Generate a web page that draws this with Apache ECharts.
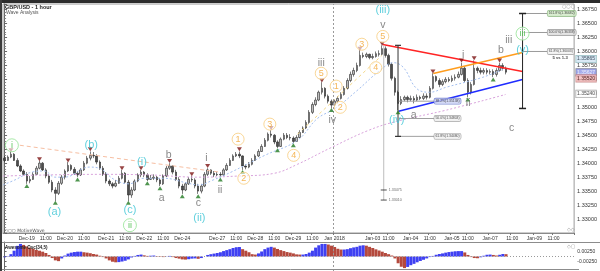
<!DOCTYPE html>
<html><head><meta charset="utf-8">
<script src="https://cdn.jsdelivr.net/npm/echarts/dist/echarts.min.js"></script>
<style>html,body{margin:0;padding:0;background:#fff}#c{width:600px;height:271px}</style>
</head><body><div id="c"></div>
<script>
// ---------- DATA ----------
// 2-hour candles: [open, close, low, high]
const candles = [
[1.3409,1.3405,1.3402,1.3413],[1.3405,1.3411,1.3404,1.3414],[1.3411,1.3416,1.3409,1.3420],[1.3416,1.3405,1.3404,1.3418],
[1.3405,1.3395,1.3393,1.3409],[1.3395,1.3386,1.3384,1.3398],[1.3386,1.3380,1.3377,1.3389],[1.3380,1.3368,1.3363,1.3384],
[1.3368,1.3371,1.3364,1.3377],[1.3371,1.3380,1.3370,1.3384],[1.3380,1.3391,1.3379,1.3395],[1.3391,1.3400,1.3389,1.3404],
[1.3400,1.3388,1.3386,1.3402],[1.3388,1.3377,1.3373,1.3391],[1.3377,1.3366,1.3363,1.3380],[1.3366,1.3352,1.3348,1.3370],
[1.3352,1.3346,1.3332,1.3357],[1.3346,1.3364,1.3343,1.3368],[1.3364,1.3375,1.3361,1.3379],[1.3375,1.3386,1.3371,1.3389],
[1.3386,1.3396,1.3384,1.3402],[1.3396,1.3389,1.3386,1.3398],[1.3389,1.3382,1.3379,1.3393],[1.3382,1.3379,1.3375,1.3386],
[1.3379,1.3388,1.3377,1.3391],[1.3388,1.3400,1.3386,1.3404],[1.3400,1.3409,1.3398,1.3413],[1.3409,1.3414,1.3405,1.3421],
[1.3414,1.3413,1.3409,1.3420],[1.3413,1.3402,1.3398,1.3416],[1.3402,1.3391,1.3388,1.3405],[1.3391,1.3380,1.3377,1.3395],
[1.3380,1.3368,1.3364,1.3384],[1.3368,1.3363,1.3359,1.3371],[1.3363,1.3359,1.3355,1.3366],[1.3359,1.3364,1.3357,1.3370],
[1.3364,1.3373,1.3363,1.3377],[1.3373,1.3382,1.3371,1.3388],[1.3382,1.3366,1.3363,1.3384],[1.3366,1.3343,1.3332,1.3370],
[1.3343,1.3352,1.3338,1.3357],[1.3352,1.3368,1.3350,1.3371],[1.3368,1.3379,1.3366,1.3382],[1.3379,1.3384,1.3375,1.3388],
[1.3384,1.3379,1.3375,1.3386],[1.3379,1.3371,1.3368,1.3382],[1.3371,1.3373,1.3370,1.3379],[1.3373,1.3375,1.3370,1.3380],
[1.3375,1.3370,1.3366,1.3377],[1.3370,1.3363,1.3359,1.3373],[1.3363,1.3377,1.3361,1.3380],[1.3377,1.3391,1.3375,1.3395],
[1.3391,1.3395,1.3388,1.3400],[1.3395,1.3384,1.3380,1.3396],[1.3384,1.3371,1.3368,1.3388],[1.3371,1.3359,1.3355,1.3375],
[1.3359,1.3352,1.3345,1.3363],[1.3352,1.3363,1.3350,1.3366],[1.3363,1.3371,1.3361,1.3375],[1.3371,1.3370,1.3366,1.3377],
[1.3370,1.3359,1.3355,1.3373],[1.3359,1.3350,1.3345,1.3363],[1.3350,1.3359,1.3346,1.3363],[1.3359,1.3380,1.3357,1.3384],
[1.3380,1.3388,1.3377,1.3391],[1.3388,1.3382,1.3379,1.3389],[1.3382,1.3379,1.3375,1.3386],[1.3379,1.3380,1.3377,1.3384],
[1.3380,1.3379,1.3375,1.3384],[1.3379,1.3388,1.3377,1.3391],[1.3388,1.3396,1.3386,1.3400],[1.3396,1.3405,1.3395,1.3409],
[1.3405,1.3413,1.3404,1.3416],[1.3413,1.3416,1.3411,1.3420],[1.3416,1.3413,1.3409,1.3421],[1.3413,1.3395,1.3388,1.3414],
[1.3395,1.3393,1.3389,1.3398],[1.3393,1.3398,1.3391,1.3402],[1.3398,1.3405,1.3396,1.3409],[1.3405,1.3413,1.3404,1.3416],
[1.3413,1.3421,1.3411,1.3425],[1.3421,1.3430,1.3420,1.3434],[1.3430,1.3441,1.3429,1.3445],[1.3441,1.3452,1.3439,1.3455],
[1.3452,1.3450,1.3446,1.3459],[1.3450,1.3438,1.3434,1.3452],[1.3438,1.3430,1.3427,1.3441],[1.3430,1.3443,1.3429,1.3446],
[1.3443,1.3450,1.3441,1.3454],[1.3450,1.3446,1.3443,1.3454],[1.3446,1.3445,1.3441,1.3452],[1.3445,1.3439,1.3436,1.3448],
[1.3439,1.3446,1.3438,1.3450],[1.3446,1.3455,1.3445,1.3459],[1.3455,1.3463,1.3454,1.3466],[1.3463,1.3473,1.3461,1.3477],
[1.3473,1.3491,1.3470,1.3495],[1.3491,1.3505,1.3488,1.3509],[1.3505,1.3513,1.3502,1.3518],[1.3513,1.3527,1.3511,1.3530],
[1.3527,1.3534,1.3523,1.3545],[1.3534,1.3520,1.3516,1.3536],[1.3520,1.3511,1.3507,1.3523],[1.3511,1.3504,1.3498,1.3514],
[1.3504,1.3511,1.3502,1.3514],[1.3511,1.3516,1.3507,1.3520],[1.3516,1.3523,1.3514,1.3527],[1.3523,1.3534,1.3521,1.3538],
[1.3534,1.3548,1.3532,1.3552],[1.3548,1.3559,1.3545,1.3564],[1.3559,1.3566,1.3555,1.3571],[1.3566,1.3575,1.3563,1.3580],
[1.3575,1.3593,1.3573,1.3602],[1.3593,1.3591,1.3588,1.3598],[1.3591,1.3595,1.3588,1.3598],[1.3595,1.3589,1.3586,1.3596],
[1.3589,1.3591,1.3586,1.3596],[1.3591,1.3596,1.3589,1.3600],[1.3596,1.3595,1.3591,1.3602],[1.3595,1.3605,1.3593,1.3611],
[1.3605,1.3593,1.3589,1.3609],[1.3593,1.3577,1.3573,1.3596],[1.3577,1.3552,1.3548,1.3580],[1.3552,1.3527,1.3521,1.3555],
[1.3527,1.3507,1.3495,1.3530],[1.3507,1.3514,1.3504,1.3520],[1.3514,1.3518,1.3511,1.3521],[1.3518,1.3514,1.3509,1.3521],
[1.3514,1.3516,1.3511,1.3521],[1.3516,1.3513,1.3507,1.3520],[1.3513,1.3518,1.3511,1.3523],[1.3518,1.3516,1.3513,1.3521],
[1.3516,1.3520,1.3513,1.3525],[1.3520,1.3518,1.3514,1.3525],[1.3518,1.3534,1.3516,1.3538],[1.3534,1.3555,1.3532,1.3561],
[1.3555,1.3548,1.3545,1.3557],[1.3548,1.3541,1.3536,1.3552],[1.3541,1.3546,1.3538,1.3550],[1.3546,1.3550,1.3543,1.3554],
[1.3550,1.3548,1.3545,1.3554],[1.3548,1.3552,1.3545,1.3557],[1.3552,1.3554,1.3548,1.3559],[1.3554,1.3559,1.3552,1.3564],
[1.3559,1.3570,1.3557,1.3580],[1.3570,1.3548,1.3545,1.3573],[1.3548,1.3527,1.3518,1.3552],[1.3527,1.3541,1.3523,1.3545],
[1.3541,1.3570,1.3539,1.3584],[1.3570,1.3566,1.3561,1.3573],[1.3566,1.3563,1.3559,1.3571],[1.3563,1.3566,1.3559,1.3570],
[1.3566,1.3563,1.3559,1.3570],[1.3563,1.3564,1.3559,1.3568],[1.3564,1.3559,1.3554,1.3568],[1.3559,1.3566,1.3555,1.3570],
[1.3566,1.3575,1.3564,1.3580],[1.3575,1.3570,1.3566,1.3579],[1.3570,1.3563,1.3559,1.3573]
];
// Awesome Oscillator (34,5), one value per candle
const aoValues = [
-0.0004,0.0002,0.0012,0.0030,0.0055,0.0065,0.0060,0.0052,0.0045,0.0040,
0.0034,0.0030,0.0025,0.0018,0.0008,-0.0008,-0.0020,-0.0024,-0.0010,0.0005,
0.0015,0.0020,0.0023,0.0025,0.0025,0.0022,0.0020,0.0017,0.0013,0.0010,
0.0004,-0.0003,-0.0010,-0.0020,-0.0027,-0.0030,-0.0029,-0.0026,-0.0022,-0.0015,
-0.0005,0.0003,0.0008,0.0010,0.0006,0.0003,0.0004,0.0005,0.0002,-0.0002,
-0.0003,0.0001,0.0003,-0.0003,-0.0008,-0.0011,-0.0015,-0.0016,-0.0014,-0.0011,
-0.0010,-0.0012,-0.0008,0.0000,0.0008,0.0012,0.0015,0.0018,0.0022,0.0028,
0.0033,0.0038,0.0044,0.0048,0.0049,0.0038,0.0030,0.0022,0.0012,0.0010,
0.0016,0.0026,0.0038,0.0046,0.0050,0.0046,0.0039,0.0033,0.0028,0.0023,
0.0020,0.0016,0.0011,0.0010,0.0010,0.0013,0.0020,0.0030,0.0046,0.0058,
0.0065,0.0065,0.0062,0.0056,0.0049,0.0040,0.0036,0.0036,0.0038,0.0043,
0.0047,0.0050,0.0056,0.0058,0.0056,0.0050,0.0044,0.0037,0.0031,0.0025,
0.0018,0.0012,0.0005,-0.0010,-0.0035,-0.0053,-0.0060,-0.0054,-0.0045,-0.0038,
-0.0030,-0.0023,-0.0017,-0.0010,-0.0003,0.0003,0.0009,0.0013,0.0016,0.0020,
0.0023,0.0025,0.0027,0.0028,0.0028,0.0021,0.0008,-0.0003,-0.0008,-0.0009,
-0.0004,0.0004,0.0009,0.0010,0.0008,0.0005,0.0009,0.0013,0.0012
];
const slotCount = 180;
const tickIndex = [7,13,19,25,32,38,44,50,56,67,73,79,85,91,97,104,116,121,128,134,141,146,153,160,167,173];
const tickText = ['Dec-19','11:00','Dec-20','11:00','Dec-21','11:00','Dec-22','11:00','Dec-24','Dec-27','11:00','Dec-28','11:00','Dec-29','11:00','Jan 2018','Jan-03','11:00','Jan-04','11:00','Jan-05','11:00','Jan-07','11:00','Jan-09','11:00'];
// moving averages [slot, price]
const fastMA = [[-0.5,1.3361],[3.25,1.3370],[8.6,1.3384],[12.6,1.3386],[15.75,1.3375],[18.9,1.3375],[26.7,1.3393],[29.8,1.3391],[34.5,1.3371],[39.2,1.3363],[43.9,1.3373],[50.1,1.3373],[57.9,1.3364],[61.1,1.3361],[65.75,1.3370],[71.4,1.3384],[82,1.3414],[92.3,1.3441],[98.6,1.3480],[104.2,1.3498],[111.1,1.3530],[118.3,1.3566],[122.6,1.3580],[125.75,1.3571],[129.8,1.3534],[133.9,1.3527],[139.2,1.3536],[150.8,1.3554],[157.9,1.3570]];
const slowMA = [[-0.5,1.3377],[14.2,1.3379],[29.8,1.3380],[45.4,1.3379],[61.1,1.3375],[73.6,1.3377],[85.1,1.3382],[92.3,1.3398],[102.6,1.3427],[114.8,1.3459],[123.6,1.3475],[139.2,1.3495],[157.9,1.3523]];
// trend lines
const redLine = [[119.2,1.36125],[163.25,1.35643]];
const orangeLine = [[135.1,1.35607],[163.25,1.35982]];
const blueLine = [[124.2,1.34929],[163.25,1.35500]];
const peachLine = [[4.8,1.34321],[67.9,1.33839]];
const yellowLine = [[92.3,1.34518],[118.9,1.35929]];
// fractal markers [slot, price]
const peakMarks = [[2,1.3423],[11,1.3407],[20,1.3405],[27,1.3425],[37,1.3391],[43,1.3391],[52,1.3404],[59,1.3380],[64,1.3395],[74,1.3425],[84,1.3463],[100,1.3548],[112,1.3605],[119,1.3614],[135,1.3564],[144,1.3584],[148,1.3588],[156,1.3584]];
const troughMarks = [[7,1.3359],[16,1.3329],[23,1.3371],[39,1.3329],[45,1.3364],[49,1.3355],[56,1.3341],[61,1.3341],[68,1.3371],[75,1.3384],[86,1.3423],[91,1.3432],[103,1.3495],[124,1.3491],[146,1.3514],[154,1.3550]];
// wave labels [text, slot, price]
const minorCircles = [['1',73.6,1.3443],['2',75.4,1.3373],['3',83.6,1.3470],['4',91.1,1.3414],['5',99.8,1.3561],['1',104.5,1.3538],['2',105.8,1.3500],['3',112.6,1.3613],['4',117.0,1.3571],['5',119.2,1.3627]];
const greenCircles = [['i',2.3,1.3432],['ii',39.5,1.3289],['iii',163.25,1.3632]];
const cyanLabels = [['(iii)',119.2,1.3675],['(a)',15.75,1.3312],['(b)',27.3,1.3432],['(c)',39.5,1.3316],['(i)',43.3,1.3402],['(ii)',61.4,1.3302],['(iv)',123.6,1.3477],['(v)',163.25,1.3602]];
const grayLabels = [['b',51.7,1.3414],['a',49.5,1.3337],['c',61.1,1.3328],['i',63.6,1.3409],['ii',67.9,1.3352],['iii',99.8,1.3580],['iv',103.25,1.3477],['v',119.2,1.3648],['a',128.9,1.3486],['i',144.5,1.3593],['ii',146.1,1.3507],['b',156.4,1.3602],['iii',158.9,1.3620],['c',159.8,1.3463]];
// fibonacci tools
const fibRightLevels = [1.3668,1.3634,1.3600];
const fibRightText = ['161.8%(1.36682)','100.0%(1.36338)','61.8%(1.36003)'];
const fibLeftLevels = [1.3511,1.3480,1.3448];
const fibLeftText = ['38.2%(1.35138)','50.0%(1.34803)','61.8%(1.34480)'];
const priceTags = [1.35865,1.35627,1.35520,1.35240];

// ---------- CHART ----------
const F = '"Liberation Sans", Arial, sans-serif';
const chart = echarts.init(document.getElementById('c'), null, {renderer:'canvas', width:600, height:271});
const cats = Array.from({length: slotCount}, (_, i) => String(i));
const labelMap = {}; tickIndex.forEach((k, j) => labelMap[k] = tickText[j]);
const tickSet = new Set(tickIndex);

function seg(data, color, width, type, extra) {
  return Object.assign({type:'line', xAxisIndex:1, yAxisIndex:0, data, symbol:'none', silent:true,
    animation:false, z:4, lineStyle:{color, width, type}}, extra || {});
}
function textLayer(items, color, fontSize, circle) {
  return {type:'scatter', xAxisIndex:1, yAxisIndex:0, silent:true, animation:false, z:10,
    data: items.map(d => ({value:[d[1], d[2]], name:d[0]})),
    symbol:'circle', symbolSize: circle ? circle.size : 1,
    itemStyle: circle ? {color:'rgba(255,255,255,0.75)', borderColor:circle.border, borderWidth:1} : {color:'rgba(0,0,0,0)'},
    label:{show:true, position:'inside', formatter:p => p.name, color, fontSize, fontFamily:F}};
}
function boxLabels(points, styles) {
  return {type:'scatter', xAxisIndex:1, yAxisIndex:0, silent:true, animation:false, z:12, clip:false,
    symbol:'circle', symbolSize:0.1, itemStyle:{color:'rgba(0,0,0,0)'},
    labelLayout:{hideOverlap:false},
    data: points.map((pt, k) => ({value:[pt[0], pt[1]], name:pt[2],
      label:Object.assign({show:true, position:'right', distance:0, formatter:p=>p.name, fontSize:3.4, fontFamily:F,
        borderWidth:0.6, borderRadius:1.5, padding:[0.8,1.2], lineHeight:4}, styles[k])}))};
}
const series = [];
series.push({type:'candlestick', xAxisIndex:0, yAxisIndex:0, data:candles, barWidth:2, animation:false, z:3,
  itemStyle:{color:'#bdbdbd', color0:'#4d4d4d', borderColor:'#262626', borderColor0:'#262626', borderWidth:0.6}});
series.push(seg(slowMA, '#d9a3dc', 1, [2,2], {smooth:0.4}));
series.push(seg(fastMA, '#a3bff0', 1, [2,2], {smooth:0.4,
  markLine:{symbol:'none', silent:true, animation:false, label:{show:false}, lineStyle:{color:'#9a9a9a', type:[2,2], width:1}, data:[{xAxis:103.6}]}}));
series.push(seg(peachLine, '#f7bfa3', 1, [4,3]));
series.push(seg(yellowLine, '#f4d889', 1, [3,3]));
series.push(seg(redLine, '#ff2424', 1.6, 'solid'));
series.push(seg(orangeLine, '#ff9d1e', 1.6, 'solid'));
series.push(seg(blueLine, '#1f2cff', 1.6, 'solid'));
// measurement line
series.push(seg([[119.5,1.3611],[119.5,1.3334]], '#bdbdbd', 1, 'solid'));
series.push({type:'scatter', xAxisIndex:1, yAxisIndex:0, silent:true, animation:false, z:6,
  data:[{value:[119.5,1.3352], name:'1.33475'},{value:[119.5,1.3334], name:'1.33010'}],
  symbol:'rect', symbolSize:[6,1], itemStyle:{color:'#222'},
  label:{show:true, position:'right', distance:2, formatter:p=>p.name, fontSize:3.6, color:'#444', fontFamily:F}});
// left fib
series.push(seg([[124.0,1.3611],[124.0,1.3448]], '#333', 1, 'solid', {symbol:'rect', symbolSize:[6,1.2], showSymbol:true, itemStyle:{color:'#333'}}));
fibLeftLevels.forEach(p => series.push(seg([[124.2,p],[135.4,p]], '#a0a0a0', 1, 'solid')));
series.push(boxLabels(fibLeftLevels.map((p,k)=>[135.4,p,fibLeftText[k]]), [
  {color:'#222', backgroundColor:'#c9d0f2', borderColor:'#6070c8'},
  {color:'#222', backgroundColor:'#f0f0f0', borderColor:'#999'},
  {color:'#222', backgroundColor:'#f0f0f0', borderColor:'#999'}]));
// right fib
series.push(seg([[163.25,1.3668],[163.25,1.3498]], '#222', 1, 'solid', {symbol:'rect', symbolSize:[7,1.5], showSymbol:true, itemStyle:{color:'#222'}}));
fibRightLevels.forEach(p => series.push(seg([[163.25,p],[171.1,p]], '#9a9a9a', 1, 'solid')));
series.push(boxLabels(fibRightLevels.map((p,k)=>[171.1,p,fibRightText[k]]), [
  {color:'#222', backgroundColor:'#cfe9c4', borderColor:'#7fae74'},
  {color:'#222', backgroundColor:'#dedede', borderColor:'#8a8a8a'},
  {color:'#222', backgroundColor:'#f3f3f3', borderColor:'#8a8a8a'}]));
// current price tags on the price axis
const tagStyles = [
  {color:'#123', backgroundColor:'#cfe3f3', borderColor:'#7aa'},
  {color:'#fff', backgroundColor:'#8d97e6', borderColor:'#667'},
  {color:'#300', backgroundColor:'#f2b8b8', borderColor:'#b77'},
  {color:'#333', backgroundColor:'#ffffff', borderColor:'#888'}];
series.push(boxLabels(priceTags.map(p=>[slotCount-0.5+0.6, p, p.toFixed(5)]), tagStyles.map(s=>Object.assign({fontSize:5, padding:[1,1], borderRadius:0, lineHeight:5}, s))));
// fractal markers
series.push({type:'scatter', xAxisIndex:1, yAxisIndex:0, silent:true, animation:false, z:7, data:peakMarks,
  symbol:'triangle', symbolRotate:180, symbolSize:[5,4], itemStyle:{color:'#7d1414'}});
series.push({type:'scatter', xAxisIndex:1, yAxisIndex:0, silent:true, animation:false, z:7, data:troughMarks,
  symbol:'triangle', symbolSize:[5,4], itemStyle:{color:'#237a23'}});
// wave labels
series.push(textLayer(minorCircles, '#f2a530', 9, {size:12, border:'#f7cd7e'}));
series.push(textLayer(greenCircles, '#37b837', 9, {size:13, border:'#93e393'}));
series.push(textLayer(cyanLabels, '#39c4d4', 11));
series.push(textLayer(grayLabels, '#6a6a6a', 10.5));
series.push({type:'scatter', xAxisIndex:1, yAxisIndex:0, silent:true, animation:false, z:10,
  data:[{value:[175.1,1.3589], name:'5 vs 1-3'}], symbolSize:1, itemStyle:{color:'rgba(0,0,0,0)'},
  label:{show:true, position:'inside', formatter:p=>p.name, fontSize:4.2, fontWeight:'bold', color:'#111', fontFamily:F}});
// Awesome oscillator
series.push({type:'bar', xAxisIndex:2, yAxisIndex:1, animation:false, barCategoryGap:'5%',
  data: aoValues.map((v, i) => ({value:v, itemStyle:{color: (i === 0 || v >= aoValues[i-1]) ? '#3f40f2' : '#b4493d'}}))});
series.push({type:'line', xAxisIndex:3, yAxisIndex:1, data:[[-0.5,0],[179.5,0]], symbol:'none', silent:true, animation:false,
  lineStyle:{color:'#999', width:1, type:[1,2]},
  markLine:{symbol:'none', silent:true, animation:false, label:{show:false}, lineStyle:{color:'#9a9a9a', type:[2,2], width:1}, data:[{xAxis:103.6}]}});

const option = {
  animation:false,
  backgroundColor:'#ffffff',
  grid:[
    {left:3, top:4, width:576, height:229, show:true, borderColor:'#9a9a9a', borderWidth:1, backgroundColor:'#fff'},
    {left:3, top:242, width:576, height:30, show:false}
  ],
  xAxis:[
    {type:'category', gridIndex:0, data:cats, boundaryGap:true,
      axisLine:{show:true, lineStyle:{color:'#8a8a8a'}},
      axisTick:{show:true, interval:(i)=>tickSet.has(i), length:2, lineStyle:{color:'#777'}},
      axisLabel:{interval:(i)=>tickSet.has(i), formatter:(v, i)=>labelMap[i] || '', fontSize:5, color:'#333', margin:3, fontFamily:F},
      splitLine:{show:false}},
    {type:'value', gridIndex:0, min:-0.5, max:slotCount-0.5, show:false},
    {type:'category', gridIndex:1, data:cats, boundaryGap:true, show:false},
    {type:'value', gridIndex:1, min:-0.5, max:slotCount-0.5, show:false}
  ],
  yAxis:[
    {type:'value', gridIndex:0, position:'right', min:1.3275, max:1.3685, interval:0.0025,
      axisLine:{show:true, lineStyle:{color:'#666'}},
      axisTick:{show:true, length:2.5, lineStyle:{color:'#666'}},
      minorTick:{show:true, splitNumber:5, length:1.5, lineStyle:{color:'#888'}},
      axisLabel:{fontSize:5.5, color:'#333', margin:3, formatter:v=>v.toFixed(5), showMinLabel:false, showMaxLabel:false, fontFamily:F},
      splitLine:{show:false}},
    {type:'value', gridIndex:1, position:'right', min:-0.0075, max:0.0075, interval:0.0025,
      axisLine:{show:true, lineStyle:{color:'#666'}},
      axisTick:{show:true, length:2, lineStyle:{color:'#666'}},
      axisLabel:{fontSize:5, color:'#333', margin:3, fontFamily:F,
        formatter:v=>(Math.abs(Math.abs(v)-0.0025) < 1e-7 ? v.toFixed(5) : '')},
      splitLine:{show:false}}
  ],
  graphic:[
    {type:'rect', shape:{x:0, y:0, width:600, height:3}, style:{fill:'#2c2c2c'}, silent:true, z:100},
    {type:'rect', shape:{x:0, y:0, width:2, height:271}, style:{fill:'#3c3c3c'}, silent:true, z:100},
    {type:'line', shape:{x1:2, y1:242.5, x2:600, y2:242.5}, style:{stroke:'#8c8c8c', lineWidth:1}, silent:true, z:100},
    {type:'line', shape:{x1:2, y1:269.5, x2:579, y2:269.5}, style:{stroke:'#8c8c8c', lineWidth:1}, silent:true, z:100},
    {type:'text', x:5, y:4, style:{text:'GBP/USD - 1 hour', font:'bold 5.5px "Liberation Sans", Arial', fill:'#222'}, silent:true, z:100},
    {type:'text', x:6, y:10.5, style:{text:'Wave Analysis', font:'5px "Liberation Sans", Arial', fill:'#555'}, silent:true, z:100},
    {type:'text', x:5, y:245, style:{text:'Awesome Osc(34,5)', font:'bold 4.5px "Liberation Sans", Arial', fill:'#222'}, silent:true, z:100},
    {type:'text', x:4, y:228, style:{text:'\u25CB\u25CB\u25CB MotiveWave', font:'4.5px "DejaVu Sans"', fill:'#555'}, silent:true, z:100},
    {type:'text', x:562, y:4, style:{text:'\u25CB\u25CB\u25CB', font:'5px "DejaVu Sans"', fill:'#999'}, silent:true, z:100},
    {type:'text', x:567, y:227, style:{text:'\u25C7\u25C7', font:'5px "DejaVu Sans"', fill:'#999'}, silent:true, z:100},
    {type:'text', x:567, y:244, style:{text:'\u25C7\u25A2', font:'5px "DejaVu Sans"', fill:'#999'}, silent:true, z:100}
  ],
  series
};
chart.setOption(option);
</script>
</body></html>
